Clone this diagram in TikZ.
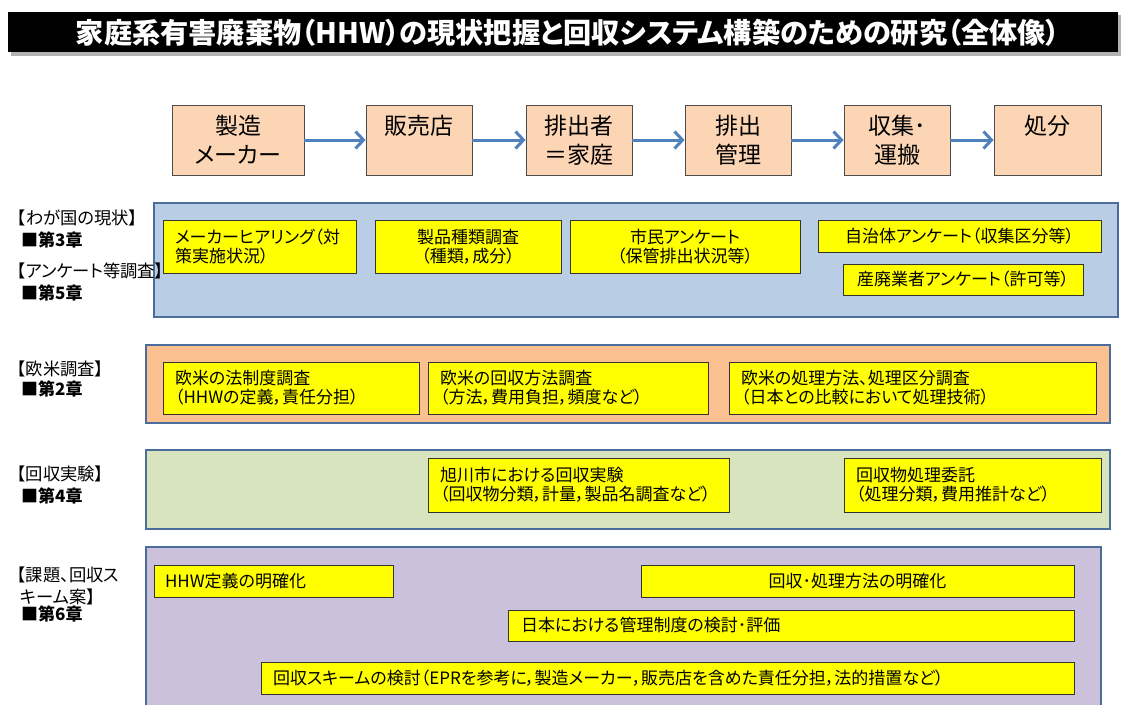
\documentclass[tikz,border=0pt]{standalone}
\usepackage{fontspec}
\setmainfont{Noto Sans CJK JP}[RawFeature=+palt]
\usetikzlibrary{arrows.meta}
\definecolor{flowc}{HTML}{FCD5B5}
\definecolor{arrowc}{HTML}{4F81BD}
\definecolor{panelblue}{HTML}{B9CDE5}
\definecolor{panelorange}{HTML}{FAC090}
\definecolor{panelgreen}{HTML}{D7E4BD}
\definecolor{panelpurple}{HTML}{CCC1DA}
\definecolor{panelline}{HTML}{4A6D9C}
\definecolor{yfill}{HTML}{FFFF00}
\begin{document}
\begin{tikzpicture}[x=1pt,y=-1pt,
  flowbox/.style={draw=black!70, line width=0.9pt, fill=flowc, minimum height=70pt, inner sep=0pt},
  flowtext/.style={font=\fontsize{23}{29}\selectfont, align=center, anchor=north, inner sep=0pt},
  flowarrow/.style={draw=arrowc, line width=3pt, -{Straight Barb[length=8pt,width=17pt]}},
  panel/.style={draw=panelline, line width=1.8pt},
  yellowbox/.style={draw=black!80, line width=0.9pt, fill=yfill, inner sep=0pt, font=\fontsize{17}{19}\selectfont},
  sidelabel/.style={anchor=west, inner sep=0pt, font=\fontsize{17.3}{19}\selectfont},
  chapter/.style={anchor=west, inner sep=0pt, font=\fontsize{17}{19}\selectfont\bfseries},
]
\useasboundingbox (0,0) rectangle (1126,704);
\fill[white] (0,0) rectangle (1126,704);

% title
\fill[black!30] (11,15) rectangle (1121,56);
\fill[black] (8,12) rectangle (1118,52);
\node[text=white, inner sep=0pt, font=\fontsize{28.2}{32}\selectfont\bfseries] (title) at (568,33) {家庭系有害廃棄物（HHW）の現状把握と回収システム構築のための研究（全体像）};

% flow boxes
\node[flowbox, minimum width=132pt] (f1) at (238,140) {};
\node[flowbox, minimum width=106pt] (f2) at (419,140) {};
\node[flowbox, minimum width=106pt] (f3) at (579,140) {};
\node[flowbox, minimum width=106pt] (f4) at (738,140) {};
\node[flowbox, minimum width=106pt] (f5) at (897,140) {};
\node[flowbox, minimum width=107pt] (f6) at (1047.5,140) {};
\node[flowtext] (t1) at (238,115) {製造\\メーカー};
\node[flowtext] (t2) at (419,115) {販売店};
\node[flowtext] (t3) at (579,115) {排出者\\＝家庭};
\node[flowtext] (t4) at (738,115) {排出\\管理};
\node[flowtext] (t5) at (897,115) {収集･\\運搬};
\node[flowtext] (t6) at (1047.5,115) {処分};
\draw[flowarrow] (f1.east) -- (f2.west);
\draw[flowarrow] (f2.east) -- (f3.west);
\draw[flowarrow] (f3.east) -- (f4.west);
\draw[flowarrow] (f4.east) -- (f5.west);
\draw[flowarrow] (f5.east) -- (f6.west);

% panels
\draw[panel, fill=panelblue] (154,203) rectangle (1118,317);
\draw[panel, fill=panelorange] (146,345) rectangle (1110,423);
\draw[panel, fill=panelgreen] (146,450) rectangle (1110,529);
\draw[panel, fill=panelpurple] (146,547) rectangle (1101,712);

% side labels
\node[sidelabel] (l1) at (17,218) {【わが国の現状】};
\node[chapter] (c3) at (21,240) {■第3章};
\node[sidelabel] (l2) at (17,271) {【アンケート等調査】};
\node[chapter] (c5) at (21,293) {■第5章};
\node[sidelabel] (l3) at (17,369) {【欧米調査】};
\node[chapter] (c2) at (21,389) {■第2章};
\node[sidelabel] (l4) at (17,474) {【回収実験】};
\node[chapter] (c4) at (21,496) {■第4章};
\node[sidelabel] (l5) at (17,575) {【課題、回収ス};
\node[sidelabel] (l6) at (20,597) {キーム案】};
\node[chapter] (c6) at (21,614) {■第6章};

% row 1
\node[yellowbox, minimum width=193pt, minimum height=53pt, text width=169pt, align=left] (y1) at (259.5,246.5) {メーカーヒアリング（対\\策実施状況）};
\node[yellowbox, minimum width=186pt, minimum height=53pt, align=center] (y2) at (468,246.5) {製品種類調査\\（種類，成分）};
\node[yellowbox, minimum width=230pt, minimum height=53pt, align=center] (y3) at (685,246.5) {市民アンケート\\（保管排出状況等）};
\node[yellowbox, minimum width=283pt, minimum height=32pt, align=center] (y4) at (959.5,236) {自治体アンケート（収集区分等）};
\node[yellowbox, minimum width=240pt, minimum height=31pt, align=center] (y5) at (963,279.5) {産廃業者アンケート（許可等）};

% row 2
\node[yellowbox, minimum width=256pt, minimum height=52pt, text width=232pt, align=left] (e1) at (291,388) {欧米の法制度調査\\（HHWの定義，責任分担）};
\node[yellowbox, minimum width=280pt, minimum height=52pt, text width=256pt, align=left] (e2) at (568,388) {欧米の回収方法調査\\（方法，費用負担，頻度など）};
\node[yellowbox, minimum width=367pt, minimum height=52pt, text width=343pt, align=left] (e3) at (912.5,388) {欧米の処理方法、処理区分調査\\（日本との比較において処理技術）};

% row 3
\node[yellowbox, minimum width=301pt, minimum height=54pt, text width=277pt, align=left] (g1) at (578.5,485) {旭川市における回収実験\\（回収物分類，計量，製品名調査など）};
\node[yellowbox, minimum width=257pt, minimum height=54pt, text width=233pt, align=left] (g2) at (972.5,485) {回収物処理委託\\（処理分類，費用推計など）};

% row 4
\node[yellowbox, minimum width=239pt, minimum height=32pt, text width=217pt, align=left] (p1) at (273.5,581) {HHW定義の明確化};
\node[yellowbox, minimum width=433pt, minimum height=32pt, align=center] (p2) at (857.5,581) {回収･処理方法の明確化};
\node[yellowbox, minimum width=566pt, minimum height=31pt, text width=540pt, align=left] (p3) at (791,625.5) {日本における管理制度の検討･評価};
\node[yellowbox, minimum width=813pt, minimum height=32pt, text width=789pt, align=left] (p4) at (667.5,678) {回収スキームの検討（EPRを参考に，製造メーカー，販売店を含めた責任分担，法的措置など）};
\end{tikzpicture}
\end{document}
